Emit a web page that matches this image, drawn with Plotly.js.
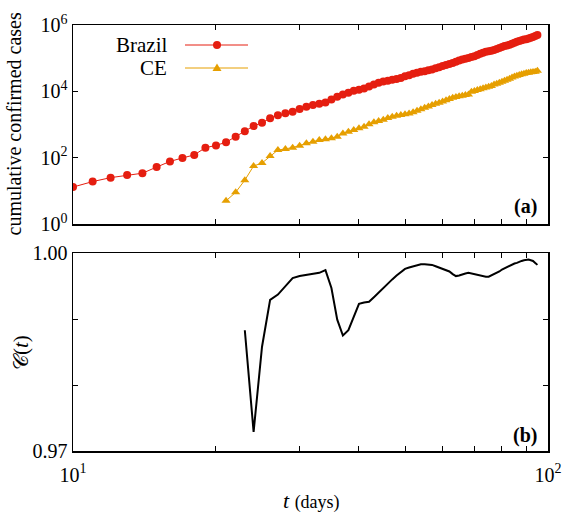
<!DOCTYPE html>
<html><head><meta charset="utf-8">
<script src="https://cdn.plot.ly/plotly-3.0.1.min.js"></script>
<style>html,body{margin:0;padding:0;background:#fff}</style>
</head><body><div id="chart" style="width:566px;height:517px"></div>
<script>
const brazilDays = [10,11,12,13,14,15,16,17,18,19,20,21,22,23,24,25,26,27,28,29,30,31,32,33,34,35,36,37,38,39,40,41,42,43,44,45,46,47,48,49,50,51,52,53,54,55,56,57,58,59,60,61,62,63,64,65,66,67,68,69,70,71,72,73,74,75,76,77,78,79,80,81,82,83,84,85,86,87,88,89,90,91,92,93,94,95];
const brazilCases = [13,19,25,30,34,52,77,98,121,200,234,291,428,621,904,1128,1546,1891,2201,2433,2915,3417,3904,4256,4579,5717,6836,8044,9056,10360,11130,12161,14034,16170,18092,19638,20727,22169,23430,25262,28320,30425,33682,36599,38654,40581,43079,45757,49492,52995,58509,61888,66501,71886,78162,85380,91589,96559,101147,107780,114715,125218,135106,145328,155939,162699,168331,177589,188974,202918,218223,233142,241080,254220,271628,291579,310087,330890,347398,363211,374898,391222,411821,438238,465166,498440];
const ceDays = [21,22,23,24,25,26,27,28,29,30,31,32,33,34,35,36,37,38,39,40,41,42,43,44,45,46,47,48,49,50,51,52,53,54,55,56,57,58,59,60,61,62,63,64,65,66,67,68,69,70,71,72,73,74,75,76,77,78,79,80,81,82,83,84,85,86,87,88,89,90,91,92,93,94,95];
const ceCases = [5,9,21,56,69,112,170,182,200,229,271,303,340,357,383,430,540,607,680,765,860,1010,1170,1280,1400,1560,1700,1820,1950,2050,2150,2350,2600,2900,3200,3500,3850,4200,4550,4900,5400,5900,6400,6800,7100,7400,7700,8000,9700,10300,11000,11600,12300,13000,13800,14600,16000,17000,18200,19400,20700,22200,24000,26000,28000,29500,31000,32500,34000,35500,36500,37500,38200,38800,42000];
const cDays = [23,24,25,26,27,28,29,30,31,32,33,34,35,36,37,38,39,40,41,42,43,44,45,46,47,48,49,50,51,52,53,54,55,56,57,58,59,60,61,62,63,64,65,66,67,68,69,70,71,72,73,74,75,76,77,78,79,80,81,82,83,84,85,86,87,88,89,90,91,92,93,94,95];
const cValues = [0.9883,0.9729,0.9858,0.9929,0.9937,0.9950,0.9962,0.9965,0.9967,0.9968,0.9970,0.9974,0.9947,0.9899,0.9875,0.9883,0.9902,0.9923,0.9925,0.9926,0.9933,0.9940,0.9948,0.9954,0.9960,0.9966,0.9971,0.9976,0.9978,0.9980,0.9982,0.9983,0.9983,0.9983,0.9982,0.9980,0.9978,0.9976,0.9974,0.9972,0.9968,0.9965,0.9966,0.9968,0.9969,0.9970,0.9969,0.9967,0.9966,0.9965,0.9964,0.9964,0.9964,0.9966,0.9967,0.9969,0.9972,0.9975,0.9977,0.9979,0.9981,0.9983,0.9984,0.9985,0.9987,0.9988,0.9989,0.9990,0.9990,0.9989,0.9988,0.9985,0.9982];

const seriesNames = ['Brazil','CE'];
const xTickVals = [10,100];
const xTickText = ['10<sup>1</sup>','10<sup>2</sup>'];
const xMinorVals = [20,30,40,50,60,70,80,90];
const yTopTickVals = [1,100,10000,1000000];
const yTopTickText = ['10<sup>0</sup>','10<sup>2</sup>','10<sup>4</sup>','10<sup>6</sup>'];
const yBotTickVals = [0.97,1.00];
const yBotTickText = ['0.97','1.00'];
const yBotMinorVals = [0.98,0.99];

const RED = '#e51e10', ORANGE = '#e69f00';
const FONT = 'Liberation Serif, Times New Roman, serif';

const traces = [
  {x: brazilDays, y: brazilCases, xaxis:'x2', yaxis:'y2', mode:'lines+markers', name: seriesNames[0],
   line:{color:RED, width:1}, marker:{symbol:'circle', size:8, color:RED}},
  {x: ceDays, y: ceCases, xaxis:'x2', yaxis:'y2', mode:'lines+markers', name: seriesNames[1],
   line:{color:ORANGE, width:1}, marker:{symbol:'triangle-up', size:8, color:ORANGE}},
  {x: cDays, y: cValues, xaxis:'x', yaxis:'y', mode:'lines', name:'C',
   line:{color:'#000', width:2}}
];

const axCommon = {ticks:'inside', ticklen:5, tickwidth:1, tickcolor:'#000', showline:true, linecolor:'#000',
  linewidth:1.5, mirror:'ticks', showgrid:false, zeroline:false, tickfont:{family:FONT, size:20, color:'#000'}};
const minorCommon = {ticks:'inside', ticklen:5, tickwidth:1, tickcolor:'#000', showgrid:false};

const PLOT_L = 73, PLOT_W = 475, AREA_H = 426;
const px = v => (v - PLOT_L) / PLOT_W;
const pyTop = v => (451 - v) / AREA_H;
const legendY = [45, 68];
const shapes = [];
const annotations = [];
seriesNames.forEach((n, i) => {
  const col = i === 0 ? RED : ORANGE;
  shapes.push({type:'line', xref:'paper', yref:'paper', x0:px(185), x1:px(248), y0:pyTop(legendY[i]), y1:pyTop(legendY[i]), line:{color:col, width:1}});
  if (i === 0) {
    shapes.push({type:'circle', xref:'paper', yref:'paper', xsizemode:'pixel', ysizemode:'pixel', xanchor:px(217), yanchor:pyTop(legendY[i]), x0:-4, x1:4, y0:-4, y1:4, fillcolor:col, line:{color:col, width:0}});
  } else {
    shapes.push({type:'path', xref:'paper', yref:'paper', xsizemode:'pixel', ysizemode:'pixel', xanchor:px(217), yanchor:pyTop(legendY[i]), path:'M -4.5,-3 L 4.5,-3 L 0,4.5 Z', fillcolor:col, line:{color:col, width:0}});
  }
  annotations.push({xref:'paper', yref:'paper', x:px(169), y:pyTop(legendY[i]), xanchor:'right', yanchor:'middle', text:n, showarrow:false, font:{family:FONT, size:21, color:'#000'}});
});
annotations.push({xref:'paper', yref:'paper', x:px(539), y:pyTop(207), xanchor:'right', yanchor:'middle', text:'<b>(a)</b>', showarrow:false, font:{family:FONT, size:20, color:'#000'}});
annotations.push({xref:'paper', yref:'paper', x:px(539), y:pyTop(435), xanchor:'right', yanchor:'middle', text:'<b>(b)</b>', showarrow:false, font:{family:FONT, size:20, color:'#000'}});
annotations.push({xref:'paper', yref:'paper', x:px(13), y:pyTop(124.5), xanchor:'center', yanchor:'middle', textangle:-90, text:'cumulative confirmed cases', showarrow:false, font:{family:FONT, size:20, color:'#000'}});
annotations.push({xref:'paper', yref:'paper', x:px(21), y:pyTop(353), xanchor:'center', yanchor:'middle', textangle:-90, text:'𝒞(<i>t</i>)', showarrow:false, font:{family:FONT, size:21, color:'#000'}});
annotations.push({xref:'paper', yref:'paper', x:px(311), y:pyTop(501), xanchor:'center', yanchor:'middle', text:'<i>t</i> <span style="font-size:18px">(days)</span>', showarrow:false, font:{family:FONT, size:22, color:'#000'}});

const layout = {
  width:566, height:517, margin:{l:73, r:18, t:25, b:66}, showlegend:false,
  paper_bgcolor:'#fff', plot_bgcolor:'#fff', font:{family:FONT, color:'#000'},
  xaxis: Object.assign({}, axCommon, {type:'log', range:[1,2], anchor:'y', tickvals:xTickVals, ticktext:xTickText, ticklabelstandoff:5,
    minor: Object.assign({}, minorCommon, {tickmode:'array', tickvals:xMinorVals})}),
  yaxis: Object.assign({}, axCommon, {domain:[0, (451-253)/426], range:[0.97,1.0], anchor:'x', tickvals:yBotTickVals, ticktext:yBotTickText,
    minor: Object.assign({}, minorCommon, {tickmode:'array', tickvals:yBotMinorVals})}),
  xaxis2: Object.assign({}, axCommon, {type:'log', range:[1,2], anchor:'y2', matches:'x', tickvals:xTickVals, showticklabels:false,
    minor: Object.assign({}, minorCommon, {tickmode:'array', tickvals:xMinorVals})}),
  yaxis2: Object.assign({}, axCommon, {type:'log', domain:[(451-224)/426, 1], range:[0,6], anchor:'x2', tickvals:yTopTickVals, ticktext:yTopTickText}),
  shapes: shapes, annotations: annotations
};
Plotly.newPlot('chart', traces, layout, {staticPlot:true});
</script></body></html>
